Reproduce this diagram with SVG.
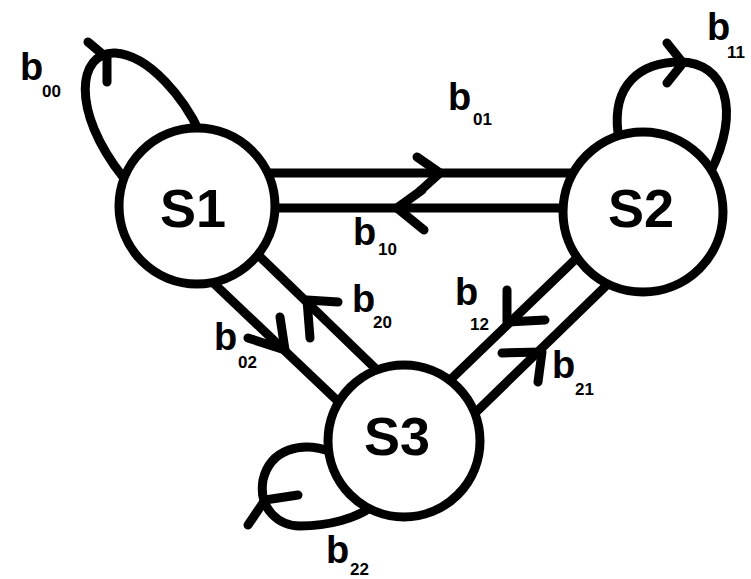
<svg xmlns="http://www.w3.org/2000/svg" width="751" height="579" viewBox="0 0 751 579">
<style>
.ln{fill:none;stroke:#000;stroke-width:9;stroke-linecap:round;stroke-linejoin:round}
.st{fill:#fff;stroke:#000;stroke-width:9}
.nm{font-family:"Liberation Sans",Arial,sans-serif;font-weight:bold;font-size:54px;text-anchor:middle;fill:#000}
.b{font-family:"Liberation Sans",Arial,sans-serif;font-weight:bold;font-size:38px;fill:#000}
.s{font-family:"Liberation Sans",Arial,sans-serif;font-weight:bold;font-size:17px;fill:#000}
</style>
<rect width="751" height="579" fill="#fff"/>
<g id="connectors">
  <path class="ln" d="M123,177 C70,110 78,52 115,53 C150,55 185,100 200,133"/>
  <polyline class="ln" points="88,42 107,58 107,82"/>
  <path class="ln" d="M618,133 C612,85 640,62 680,62 C725,62 742,110 710,173"/>
  <polyline class="ln" points="667,43 683,63 667,83"/>
  <path class="ln" d="M332,452 C300,440 270,450 263,480 C258,510 280,526 300,526 C330,526 355,518 370,508"/>
  <polyline class="ln" points="248,525 265,500 298,495"/>
  <line class="ln" x1="255" y1="173" x2="590" y2="173"/>
  <line class="ln" x1="255" y1="208" x2="590" y2="208"/>
  <polyline class="ln" points="417,157 440,173 420,191"/>
  <polyline class="ln" points="422,190 397,208 424,230"/>
  <line class="ln" x1="205" y1="275" x2="345" y2="408"/>
  <line class="ln" x1="252" y1="249" x2="378" y2="371"/>
  <polyline class="ln" points="280,317 285,350 248,338"/>
  <polyline class="ln" points="310,338 307,300 338,302"/>
  <line class="ln" x1="583" y1="252" x2="447" y2="383"/>
  <line class="ln" x1="613" y1="279" x2="470" y2="418"/>
  <polyline class="ln" points="507,290 507,322 545,320"/>
  <polyline class="ln" points="502,353 542,352 538,382"/>
</g>
<g id="S1">
  <circle class="st" cx="197" cy="206" r="78"/>
  <text class="nm" x="193" y="227">S1</text>
</g>
<g id="S2">
  <circle class="st" cx="643" cy="212" r="80"/>
  <text class="nm" x="641" y="227">S2</text>
</g>
<g id="S3">
  <circle class="st" cx="404" cy="441" r="76"/>
  <text class="nm" x="397" y="455">S3</text>
</g>
<g id="labels">
  <text class="b" x="20" y="80">b</text><text class="s" x="42" y="97">00</text>
  <text class="b" x="448" y="110">b</text><text class="s" x="473" y="125">01</text>
  <text class="b" x="707" y="40">b</text><text class="s" x="727" y="58">11</text>
  <text class="b" x="353" y="245">b</text><text class="s" x="378" y="255">10</text>
  <text class="b" x="214" y="350">b</text><text class="s" x="238" y="368">02</text>
  <text class="b" x="352" y="312">b</text><text class="s" x="373" y="328">20</text>
  <text class="b" x="455" y="305">b</text><text class="s" x="470" y="330">12</text>
  <text class="b" x="552" y="378">b</text><text class="s" x="575" y="395">21</text>
  <text class="b" x="326" y="563">b</text><text class="s" x="350" y="575">22</text>
</g>
</svg>
